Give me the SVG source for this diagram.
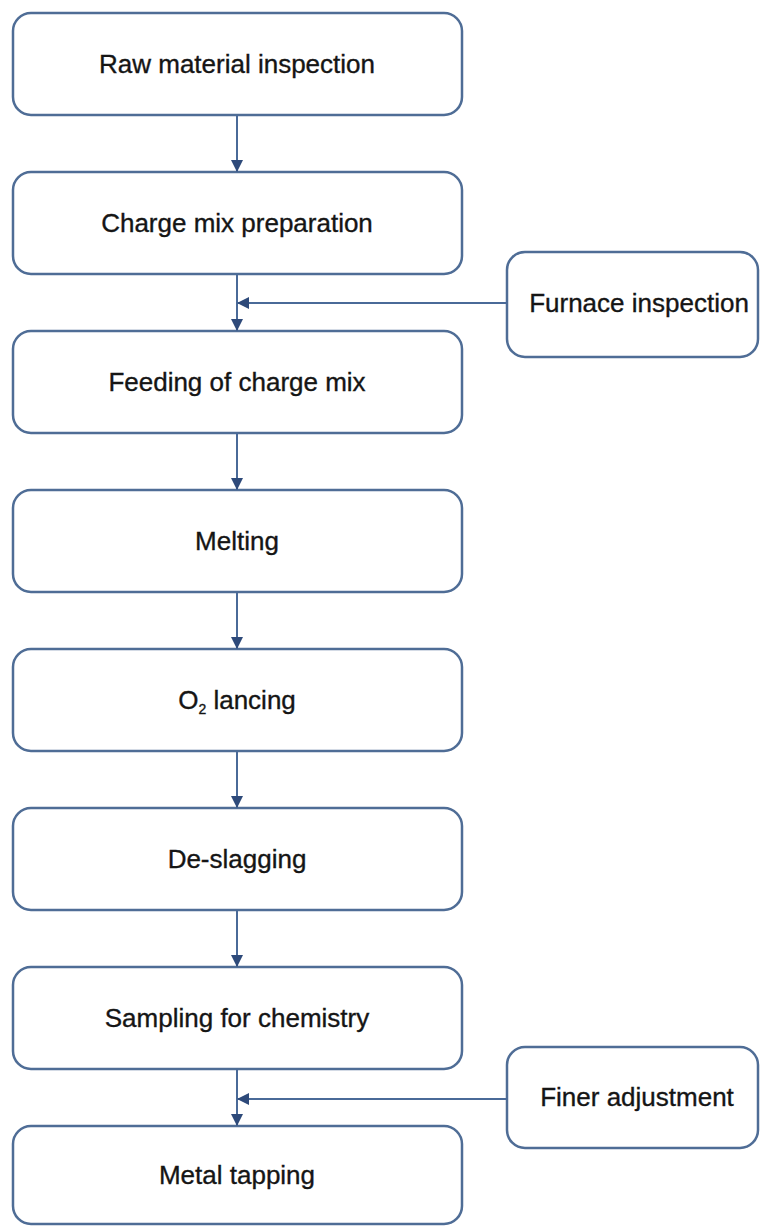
<svg xmlns="http://www.w3.org/2000/svg" width="760" height="1226" viewBox="0 0 760 1226">
<style>
.box{fill:#ffffff;stroke:#4f6d96;stroke-width:2.5}
.lbl{font-family:"Liberation Sans",Arial,sans-serif;font-size:26px;fill:#151515;stroke:#151515;stroke-width:0.35;text-anchor:middle}
.con{fill:none;stroke:#4a6a98;stroke-width:2}
</style>
<defs>
<marker id="ah" markerUnits="userSpaceOnUse" markerWidth="12" markerHeight="12" viewBox="0 0 12 12" refX="12" refY="6" orient="auto">
<path d="M0,0 L12,6 L0,12 Z" fill="#2e4a7a"/>
</marker>
</defs>
<rect width="760" height="1226" fill="#ffffff"/>
<g id="n1"><rect class="box" x="13" y="13" width="449" height="102" rx="18"/><text class="lbl" x="237" y="73">Raw material inspection</text></g>
<g id="n2"><rect class="box" x="13" y="172" width="449" height="102" rx="18"/><text class="lbl" x="237" y="232">Charge mix preparation</text></g>
<g id="n3"><rect class="box" x="13" y="331" width="449" height="102" rx="18"/><text class="lbl" x="237" y="391">Feeding of charge mix</text></g>
<g id="n4"><rect class="box" x="13" y="490" width="449" height="102" rx="18"/><text class="lbl" x="237" y="550">Melting</text></g>
<g id="n5"><rect class="box" x="13" y="649" width="449" height="102" rx="18"/><text class="lbl" x="237" y="709">O<tspan font-size="14" dy="5">2</tspan><tspan dy="-5"> lancing</tspan></text></g>
<g id="n6"><rect class="box" x="13" y="808" width="449" height="102" rx="18"/><text class="lbl" x="237" y="868">De-slagging</text></g>
<g id="n7"><rect class="box" x="13" y="967" width="449" height="102" rx="18"/><text class="lbl" x="237" y="1027">Sampling for chemistry</text></g>
<g id="n8"><rect class="box" x="13" y="1126" width="449" height="98" rx="18"/><text class="lbl" x="237" y="1184">Metal tapping</text></g>
<g id="f1"><rect class="box" x="507" y="252" width="251" height="105" rx="18"/><text class="lbl" x="639" y="312">Furnace inspection</text></g>
<g id="f2"><rect class="box" x="507" y="1047" width="251" height="101" rx="18"/><text class="lbl" x="637" y="1106">Finer adjustment</text></g>
<g id="connectors">
<line class="con" x1="237" y1="115" x2="237" y2="172" marker-end="url(#ah)"/>
<line class="con" x1="237" y1="274" x2="237" y2="331" marker-end="url(#ah)"/>
<line class="con" x1="507" y1="303" x2="237" y2="303" marker-end="url(#ah)"/>
<line class="con" x1="237" y1="433" x2="237" y2="490" marker-end="url(#ah)"/>
<line class="con" x1="237" y1="592" x2="237" y2="649" marker-end="url(#ah)"/>
<line class="con" x1="237" y1="751" x2="237" y2="808" marker-end="url(#ah)"/>
<line class="con" x1="237" y1="910" x2="237" y2="967" marker-end="url(#ah)"/>
<line class="con" x1="237" y1="1069" x2="237" y2="1126" marker-end="url(#ah)"/>
<line class="con" x1="507" y1="1099" x2="237" y2="1099" marker-end="url(#ah)"/>
</g>
</svg>
